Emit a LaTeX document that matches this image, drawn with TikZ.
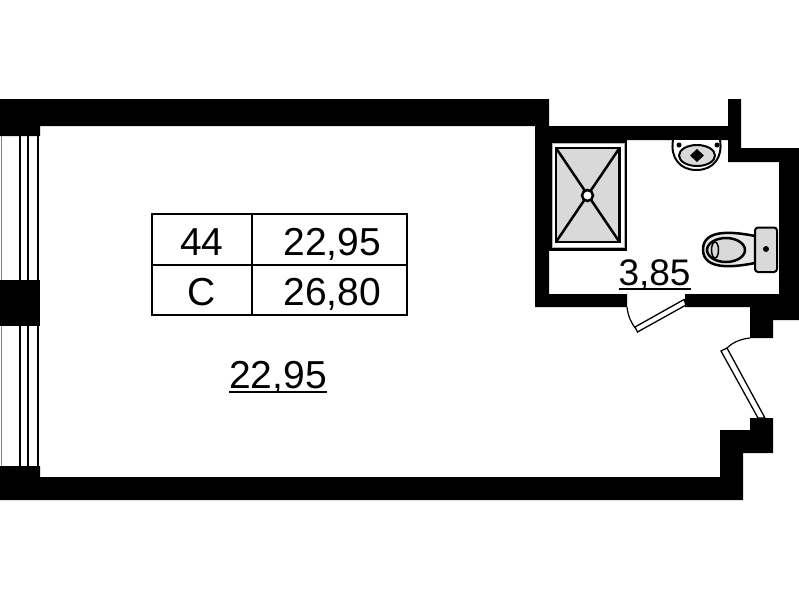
\documentclass[tikz,border=0pt]{standalone}
\usepackage{fontspec}
\setmainfont{Liberation Sans}
\usetikzlibrary{positioning}
\definecolor{fixture}{gray}{0.85}

\begin{document}
\begin{tikzpicture}[x=1pt, y=-1pt, node distance=0pt,
  wall/.style = {fill=black, draw=none},
  cell/.style = {draw, line width=2pt, outer sep=0pt, inner sep=0pt, minimum height=50.5pt, text height=32pt, text depth=0pt, font=\fontsize{39}{39}\selectfont},
  area/.style = {inner sep=0pt, outer sep=0pt, text depth=4pt, anchor=base},
  leaf/.style = {draw, fill=white, line width=1.3pt},
  fitting/.style = {draw, fill=fixture, line width=2pt}]
\useasboundingbox (0,0) rectangle (799,600);
\fill[white] (0,0) rectangle (799,600);

\fill[wall] (0,99) -- (549,99) -- (549,126) -- (728,126) -- (728,99) -- (741,99) -- (741,148) -- (799,148) -- (799,320) -- (773,320) -- (773,338) -- (750,338) -- (750,307) -- (685,307) -- (685,294) -- (779,294) -- (779,162) -- (728,162) -- (728,140) -- (549,140) -- (549,294) -- (627,294) -- (627,307) -- (535,307) -- (535,126) -- (40,126) -- (40,136) -- (0,136) -- cycle;
\fill[wall] (0,280) rectangle (40,326);
\fill[wall] (750,418) -- (773,418) -- (773,453) -- (743,453) -- (743,500) -- (0,500) -- (0,466) -- (40,466) -- (40,477) -- (720,477) -- (720,430) -- (750,430) -- cycle;

% window
\foreach \x/\w in {19.5/2, 27.5/2, 38/1.6} {
  \draw[line width=\w pt] (\x,136) -- (\x,280);
  \draw[line width=\w pt] (\x,326) -- (\x,466);
}
\draw[gray, line width=1pt] (1.5,136) -- (1.5,280);
\draw[gray, line width=1pt] (1.5,326) -- (1.5,466);

% doors
\draw[line width=1.2pt] (627,307) .. controls (628,316) and (631,323) .. (636,329);
\draw[leaf] (684,299.5) -- (635,327) -- (637.5,332) -- (686,305) -- cycle;
\draw[line width=1.2pt] (750,338) .. controls (741,339) and (733,342) .. (727,348);
\draw[leaf] (721,351) -- (727,348) -- (765,418) -- (758,418) -- cycle;

% shower
\fill[wall] (549,140) rectangle (627,251);
\draw[fill=white, draw=gray!60, line width=1pt] (552,143.5) rectangle (624,247);
\draw[fitting, line width=2.5pt] (556,148) rectangle (619.5,242);
\draw[line width=2.5pt] (556,148) -- (619.5,242);
\draw[line width=2.5pt] (619.5,148) -- (556,242);
\node[draw, fill=white, circle, line width=2.5pt, minimum size=11pt, inner sep=0pt] (drain) at (587.5,195.5) {};

% sink
\draw[fill=white, line width=2pt] (673,140) .. controls (670,158) and (680,170) .. (696.5,170) .. controls (713,170) and (723,158) .. (720,140);
\draw[fitting] (697,155.5) ellipse (18pt and 10.5pt);
\fill[wall] (697,149) -- (704,155.5) -- (697,162) -- (690,155.5) -- cycle;
\fill[wall] (679,145) circle (2.5pt);
\fill[wall] (717,145) circle (2.5pt);

% toilet
\draw[fill=fixture!60, line width=2.5pt] (755,236) .. controls (735,232) and (703,228) .. (703,249.5) .. controls (703,271) and (735,267) .. (755,263) -- cycle;
\draw[fitting, line width=2.5pt] (726,250) ellipse (19pt and 12pt);
\draw[line width=1.5pt] (715,250) ellipse (3.5pt and 8pt);
\draw[fitting, rounded corners=3pt] (755,227.5) rectangle (777,272);
\fill[wall] (766,249) circle (3pt);

% table
\node[cell, minimum width=100pt, anchor=north west] (number) at (152,214) {44};
\node[cell, minimum width=155pt, right=of number] (total) {\hspace*{5.5pt}22,95};
\node[cell, minimum width=100pt, below=of number] (letter) {C};
\node[cell, minimum width=155pt, below=of total] (living) {\hspace*{5.5pt}26,80};

% areas
\node[area, font=\fontsize{39}{39}\selectfont] (room) at (278,388) {22,95};
\draw[line width=1.6pt] (room.south west) -- (room.south east);
\node[area, font=\fontsize{37}{37}\selectfont] (bath) at (654.5,285) {3,85};
\draw[line width=1.6pt] (bath.south west) -- (bath.south east);
\end{tikzpicture}
\end{document}
